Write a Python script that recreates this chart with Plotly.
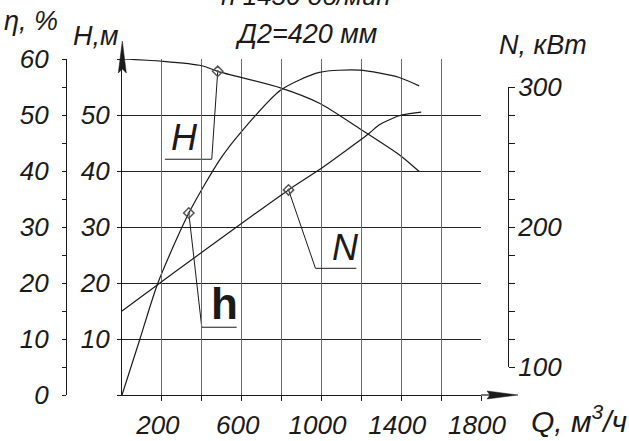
import plotly.graph_objects as go

# ---------------- data ----------------
q_eta = [0, 90, 180, 335, 490, 598, 798, 990, 1190, 1390, 1490]
eta = [0, 10, 20, 32.5, 42.0, 47.0, 54.5, 57.6, 58.0, 56.7, 55.2]

q_h = [0, 200, 400, 480, 798, 990, 1190, 1390, 1490]
head = [60, 59.6, 58.8, 57.8, 54.8, 52.1, 47.6, 42.9, 39.9]

q_n = [0, 180, 835, 990, 1240, 1290, 1390, 1500]
power = [140, 159, 226.5, 241, 267, 273, 279.5, 282]

# marked points on the curves
mark_h = (480, 57.8)
mark_eta = (335, 32.5)
mark_n = (835, 226.5)

# callout leader lines (Q, value)
lead_h_q = [480, 450, 215]
lead_h_v = [57.8, 42.1, 42.1]
lead_eta_q = [335, 400, 575]
lead_eta_v = [32.5, 12.1, 12.1]
lead_n_q = [835, 970, 1175]
lead_n_v = [226.5, 170.5, 170.5]

x_ticks = [200, 400, 600, 800, 1000, 1200, 1400, 1600, 1800]
x_labels = ["200", "", "600", "", "1000", "", "1400", "", "1800"]
h_ticks = [0, 10, 20, 30, 40, 50, 60]
h_labels = ["", "10", "20", "30", "40", "50", ""]
eta_ticks = [0, 5, 10, 15, 20, 25, 30, 35, 40, 45, 50, 55, 60]
eta_labels = ["0", "", "10", "", "20", "", "30", "", "40", "", "50", "", "60"]
n_ticks = [100, 120, 140, 160, 180, 200, 220, 240, 260, 280, 300]
n_labels = ["100", "", "", "", "", "200", "", "", "", "", "300"]

# ---------------- layout geometry ----------------
W, H = 629, 441
L, R, T, B = 66, 121, 59, 46
PW = W - L - R
PH = H - T - B


def px(x):
    return (x - L) / PW


def py(y):
    return (H - B - y) / PH


FONT = "Liberation Sans, Arial, sans-serif"
INK = "#1a1a1a"
ital = dict(family=FONT, size=27, color=INK, style="italic")

fig = go.Figure()

line_style = dict(color=INK, width=1.2)
fig.add_trace(go.Scatter(x=q_h, y=head, mode="lines", line=dict(shape="spline", smoothing=0.8, **line_style),
                         xaxis="x", yaxis="y", hoverinfo="skip"))
fig.add_trace(go.Scatter(x=q_eta, y=eta, mode="lines", line=dict(shape="spline", smoothing=0.7, **line_style),
                         xaxis="x", yaxis="y2", hoverinfo="skip"))
fig.add_trace(go.Scatter(x=q_n, y=power, mode="lines", line=dict(shape="spline", smoothing=0.6, **line_style),
                         xaxis="x", yaxis="y3", hoverinfo="skip"))

lead_style = dict(color=INK, width=1)
fig.add_trace(go.Scatter(x=lead_h_q, y=lead_h_v, mode="lines", line=lead_style, xaxis="x", yaxis="y", hoverinfo="skip"))
fig.add_trace(go.Scatter(x=lead_eta_q, y=lead_eta_v, mode="lines", line=lead_style, xaxis="x", yaxis="y2", hoverinfo="skip"))
fig.add_trace(go.Scatter(x=lead_n_q, y=lead_n_v, mode="lines", line=lead_style, xaxis="x", yaxis="y3", hoverinfo="skip"))

mk = dict(symbol="diamond-open-dot", size=8, color="#555", line=dict(width=1.5, color="#555"))
fig.add_trace(go.Scatter(x=[mark_h[0]], y=[mark_h[1]], mode="markers", marker=mk, xaxis="x", yaxis="y", hoverinfo="skip"))
fig.add_trace(go.Scatter(x=[mark_eta[0]], y=[mark_eta[1]], mode="markers", marker=mk, xaxis="x", yaxis="y2", hoverinfo="skip"))
fig.add_trace(go.Scatter(x=[mark_n[0]], y=[mark_n[1]], mode="markers", marker=mk, xaxis="x", yaxis="y3", hoverinfo="skip"))

tickfont = dict(family=FONT, size=26, color=INK, style="italic")
common = dict(automargin=False, fixedrange=True, zeroline=False, tickcolor=INK, tickwidth=1,
              showline=True, linecolor=INK, linewidth=1.2, tickfont=tickfont, ticks="outside")

fig.update_layout(
    template="none",
    width=W, height=H, autosize=False,
    margin=dict(l=L, r=R, t=T, b=B, pad=0, autoexpand=False),
    paper_bgcolor="white", plot_bgcolor="rgba(0,0,0,0)",
    showlegend=False,
    xaxis=dict(domain=[px(122), px(481)], range=[0, 1800], tickvals=x_ticks, ticktext=x_labels,
               ticklen=5, showgrid=True, gridcolor="#6a6a6a", gridwidth=1.3, anchor="y",
               ticklabelstandoff=2, ticklabelshift=-4, **common),
    yaxis=dict(range=[0, 60], tickvals=h_ticks, ticktext=h_labels, anchor="x", ticklen=4,
               showgrid=True, gridcolor="#222", gridwidth=1, ticklabelstandoff=2, **common),
    yaxis2=dict(range=[0, 60], tickvals=eta_ticks, ticktext=eta_labels, overlaying="y", anchor="free",
                position=0, side="left", ticklen=4, showgrid=False, ticklabelstandoff=8, **common),
    yaxis3=dict(range=[100, 300], domain=[py(367), py(87)], tickvals=n_ticks, ticktext=n_labels,
                anchor="free", position=1, side="right", ticklen=6, showgrid=False,
                ticklabelstandoff=-2, **common),
)

# arrowheads for the axes
fig.add_shape(type="line", xref="paper", yref="paper", x0=px(481), x1=px(490), y0=py(395), y1=py(395),
              line=dict(color=INK, width=1.2))
fig.add_shape(type="path", xref="paper", yref="paper",
              path=f"M {px(487)},{py(391)} L {px(518)},{py(395)} L {px(487)},{py(399)} L {px(490)},{py(395)} Z",
              fillcolor=INK, line=dict(color=INK, width=0.5))
fig.add_shape(type="path", xref="paper", yref="paper",
              path=f"M {px(118.3)},{py(73)} L {px(122.3)},{py(41)} L {px(126.3)},{py(73)} L {px(122.3)},{py(69)} Z",
              fillcolor=INK, line=dict(color=INK, width=0.5))


def label(text, x, y, size=27, **kw):
    f = dict(ital)
    f["size"] = size
    fig.add_annotation(text=text, x=px(x), y=py(y), xref="paper", yref="paper", showarrow=False,
                       xanchor="center", yanchor="middle", font=f, **kw)


label("η, %", 31, 21)
label("Н,м", 96, 36)
label("N, кВт", 543, 45)
label("Q, м<sup>3</sup>/ч", 579, 419, size=30)
label("Д2=420 мм", 306, 34, size=27)
label("n 1450 об/мин", 306, -4, size=26)

# curve labels
fig.add_annotation(text="H", x=315, y=45.9, xref="x", yref="y", showarrow=False,
                   font=dict(family=FONT, size=36, color=INK, style="italic"))
fig.add_annotation(text="N", x=1120, y=26.3, xref="x", yref="y", showarrow=False,
                   font=dict(family=FONT, size=36, color=INK, style="italic"))
fig.add_annotation(text="h", x=515, y=16.3, xref="x", yref="y", showarrow=False,
                   font=dict(family=FONT, size=44, color=INK, weight="bold"))

fig.write_html("out.html", config={"displayModeBar": False},
               post_script="document.body.style.margin='0px';document.body.style.padding='0px';")
